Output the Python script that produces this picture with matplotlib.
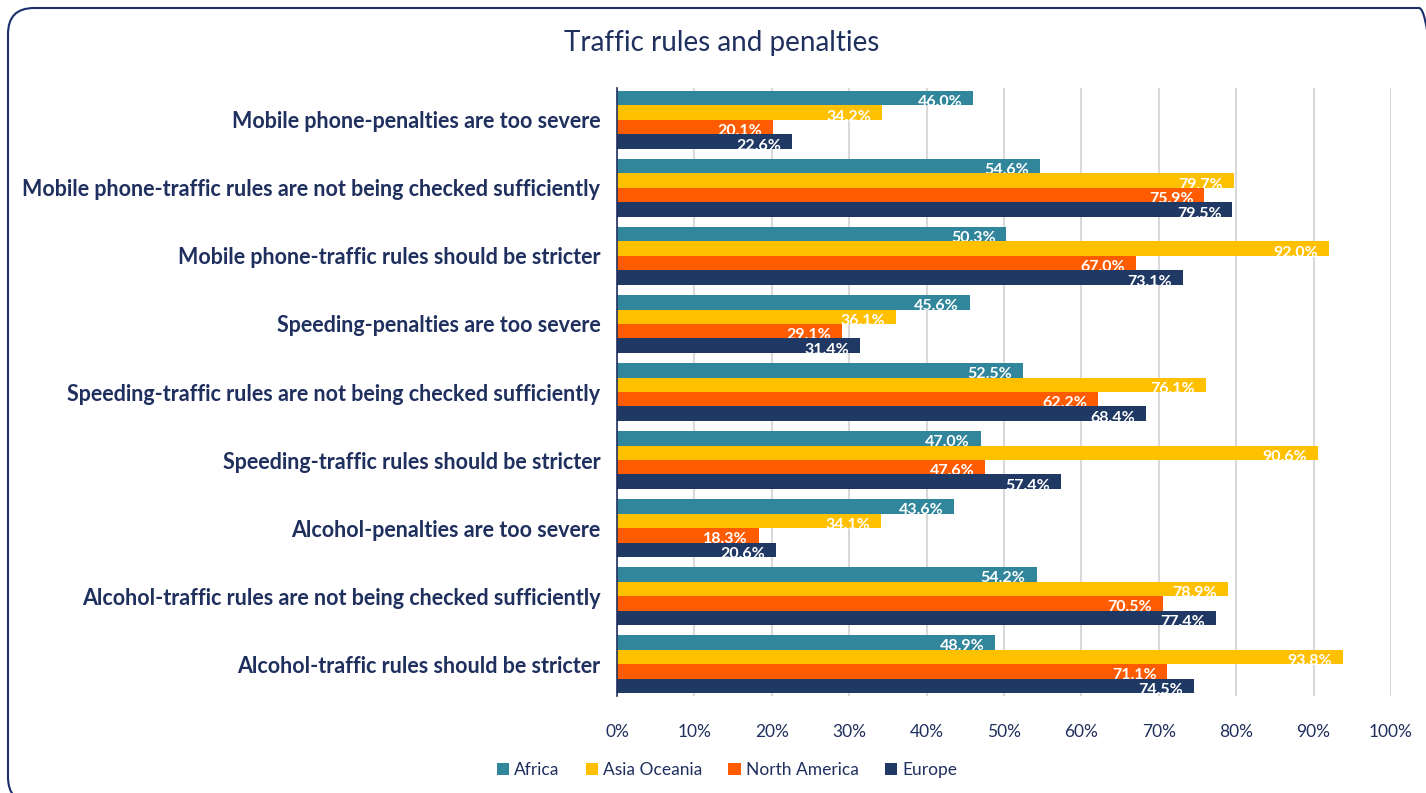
import numpy as np
import matplotlib
matplotlib.use("Agg")
import matplotlib.pyplot as plt
from matplotlib.patches import FancyBboxPatch
from matplotlib.transforms import IdentityTransform
from matplotlib.ticker import PercentFormatter

categories = [
    "Mobile phone-penalties are too severe",
    "Mobile phone-traffic rules are not being checked sufficiently",
    "Mobile phone-traffic rules should be stricter",
    "Speeding-penalties are too severe",
    "Speeding-traffic rules are not being checked sufficiently",
    "Speeding-traffic rules should be stricter",
    "Alcohol-penalties are too severe",
    "Alcohol-traffic rules are not being checked sufficiently",
    "Alcohol-traffic rules should be stricter",
]
series_names = ["Africa", "Asia Oceania", "North America", "Europe"]
africa = [46.0, 54.6, 50.3, 45.6, 52.5, 47.0, 43.6, 54.2, 48.9]
asia_oceania = [34.2, 79.7, 92.0, 36.1, 76.1, 90.6, 34.1, 78.9, 93.8]
north_america = [20.1, 75.9, 67.0, 29.1, 62.2, 47.6, 18.3, 70.5, 71.1]
europe = [22.6, 79.5, 73.1, 31.4, 68.4, 57.4, 20.6, 77.4, 74.5]
colors = ["#31869B", "#FFC000", "#FF5B00", "#203864"]

navy = "#1F2F5E"
plt.rcParams["font.family"] = ["Lato", "DejaVu Sans"]

fig = plt.figure(figsize=(14.26, 7.93), dpi=100)
W, H = 1426, 793

# rounded frame in pixels, it runs off the right and bottom edges
frame = FancyBboxPatch((8, -10), 1437, 795, boxstyle="round,pad=0,rounding_size=26",
                       transform=IdentityTransform(), fill=False, edgecolor="#1A2F6B", linewidth=1.5)
fig.patches.append(frame)

ax = fig.add_axes([617 / W, 1 - 696 / H, (1391 - 617) / W, (696 - 88) / H])

y = np.arange(len(categories))
h = 0.213
for k, vals in enumerate([africa, asia_oceania, north_america, europe]):
    pos = y + (k - 1.5) * h
    ax.barh(pos, vals, height=h, color=colors[k], label=series_names[k], zorder=2 + 2 * k)
    for p, v in zip(pos, vals):
        ax.text(v - 1.4, p + 0.06, f"{v:.1f}%", ha="right", va="center", color="white",
                fontsize=11.5, fontweight="bold", zorder=3 + 2 * k)

ax.set_ylim(8.47, -0.47)
ax.set_xlim(0, 100)
ax.set_xticks(np.arange(0, 101, 10))
ax.xaxis.set_major_formatter(PercentFormatter(decimals=0))
ax.set_yticks(y)
ax.set_yticklabels(categories, fontsize=15.5, fontweight="bold", color=navy)
ax.tick_params(axis="y", length=0, pad=12)
ax.tick_params(axis="x", length=0, pad=20, labelsize=12.5, labelcolor=navy)
ax.grid(axis="x", color="#D9D9D9", linewidth=1.5, zorder=0)
ax.set_axisbelow(True)
for s in ["top", "right", "bottom"]:
    ax.spines[s].set_visible(False)
ax.spines["left"].set_color(navy)
ax.spines["left"].set_linewidth(1.2)
ax.spines["left"].set_zorder(20)

fig.text(722 / W, 1 - 43 / H, "Traffic rules and penalties", ha="center", va="center",
         fontsize=20, color=navy)

handles, labels = ax.get_legend_handles_labels()
fig.legend(handles, labels, loc="center", bbox_to_anchor=(727 / W, 1 - 770 / H), ncol=4,
           frameon=False, fontsize=12.5, labelcolor=navy, handlelength=0.7, handleheight=0.7,
           handletextpad=0.3, columnspacing=1.5)

fig.savefig("out.png", dpi=100)
